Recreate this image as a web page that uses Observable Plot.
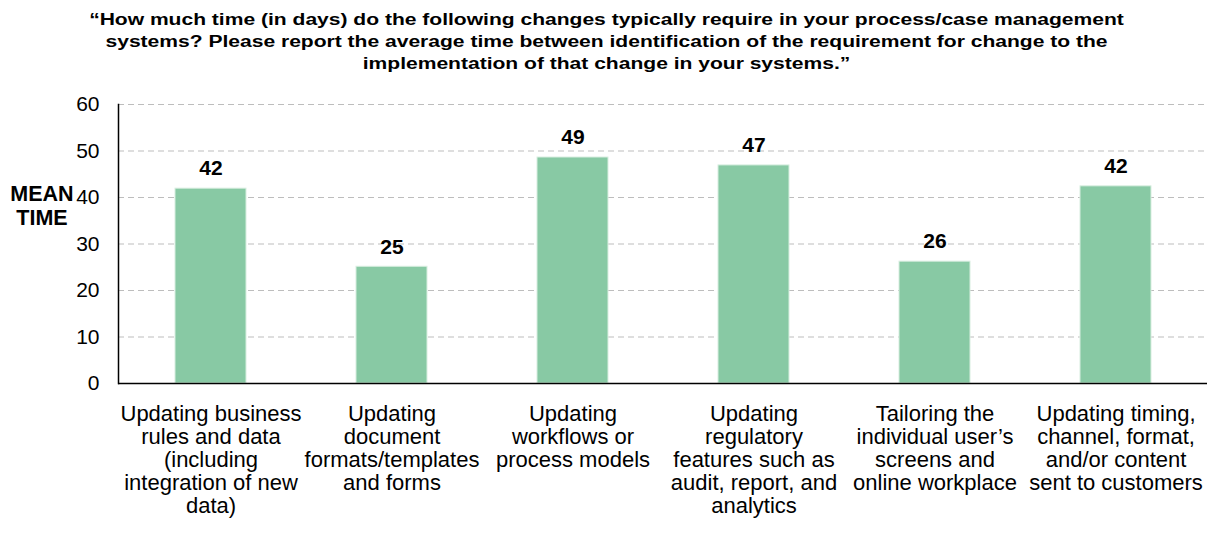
<!DOCTYPE html>
<html>
<head>
<meta charset="utf-8">
<script src="https://cdn.jsdelivr.net/npm/d3@7"></script>
<script src="https://cdn.jsdelivr.net/npm/@observablehq/plot@0.6"></script>
<style>
  html, body { margin: 0; padding: 0; background: #fff; }
  body { width: 1213px; height: 533px; position: relative; overflow: hidden; font-family: "Liberation Sans", Arial, sans-serif; }
  #title { box-sizing: border-box; height: 88px; padding-top: 9px; text-align: center; font-weight: bold; font-size: 16px; line-height: 22px; color: #000; transform: scaleX(1.315); transform-origin: 50% 0; }
  #ylab { position: absolute; z-index: 2; left: 5px; top: 182px; width: 74px; text-align: center; font-weight: bold; font-size: 21.5px; line-height: 24px; color: #000; }
  #chart { position: absolute; z-index: 1; left: 0; top: 88px; }
</style>
</head>
<body>
<div id="title">“How much time (in days) do the following changes typically require in your process/case management<br>systems? Please report the average time between identification of the requirement for change to the<br>implementation of that change in your systems.”</div>
<div id="ylab">MEAN<br>TIME</div>
<div id="chart"></div>
<script>
const categories = [
  "Updating business\nrules and data\n(including\nintegration of new\ndata)",
  "Updating\ndocument\nformats/templates\nand forms",
  "Updating\nworkflows or\nprocess models",
  "Updating\nregulatory\nfeatures such as\naudit, report, and\nanalytics",
  "Tailoring the\nindividual user’s\nscreens and\nonline workplace",
  "Updating timing,\nchannel, format,\nand/or content\nsent to customers"
];
const meanDays = [41.9, 25.1, 48.6, 46.9, 26.2, 42.4];
const yTicks = [0, 10, 20, 30, 40, 50, 60];

const data = categories.map((c, i) => ({category: c, value: meanDays[i]}));

const chart = Plot.plot({
  width: 1213,
  height: 445,
  marginTop: 16,
  marginBottom: 150,
  marginLeft: 118,
  marginRight: 6,
  style: {fontFamily: "'Liberation Sans', Arial, sans-serif", color: "#000", background: "#fff"},
  x: {domain: categories, paddingInner: 0.61, paddingOuter: 0.305, label: null},
  y: {domain: [0, 60], ticks: yTicks, label: null},
  marks: [
    Plot.gridY(yTicks.filter(d => d > 0), {stroke: "#bdbdbd", strokeOpacity: 1, strokeDasharray: "6,4", strokeWidth: 1}),
    Plot.barY(data, {x: "category", y: "value", fill: "#88c9a4", stroke: "#d8eee0", strokeWidth: 1}),
    Plot.text(data, {x: "category", y: "value", text: d => String(Math.round(d.value)), dy: -20, fontWeight: "bold", fontSize: 21, fill: "#000"}),
    Plot.axisY({ticks: yTicks, tickSize: 0, tickPadding: 19, fontSize: 21, label: null}),
    Plot.axisX({tickSize: 0, tickPadding: 21, fontSize: 22, lineHeight: 1.05, label: null, textOverflow: null, lineWidth: Infinity}),
    Plot.frame({anchor: "left", stroke: "#000", strokeWidth: 1.5}),
    Plot.ruleY([0], {stroke: "#000", strokeWidth: 1.5})
  ]
});
document.getElementById("chart").appendChild(chart);
</script>
</body>
</html>
